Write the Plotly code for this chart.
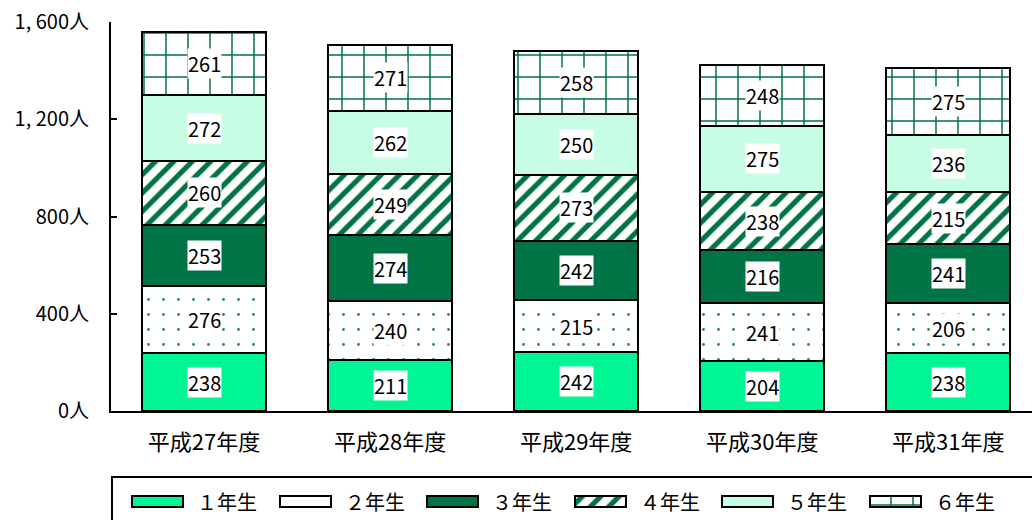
import plotly.graph_objects as go

years = ["平成27年度", "平成28年度", "平成29年度", "平成30年度", "平成31年度"]
grade_names = ["１年生", "２年生", "３年生", "４年生", "５年生", "６年生"]
grade1 = [238, 211, 242, 204, 238]
grade2 = [276, 240, 215, 241, 206]
grade3 = [253, 274, 242, 216, 241]
grade4 = [260, 249, 273, 238, 215]
grade5 = [272, 262, 250, 275, 236]
grade6 = [261, 271, 258, 248, 275]
y_ticks = [0, 400, 800, 1200, 1600]
y_tick_text = ["0人", "400人", "800人", "1, 200人", "1, 600人"]

series = [grade1, grade2, grade3, grade4, grade5, grade6]

W, H = 1032, 520
FONT = "Noto Sans CJK JP"
DARK = "#007444"


def style(i):
    """Marker style (fill colour + pattern) for grade i."""
    line = dict(color="black", width=2)
    if i == 0:
        return dict(color="#00F594", line=line)
    if i == 1:
        return dict(color="white", line=line,
                    pattern=dict(shape=".", fgcolor="#2E8B63", bgcolor="white",
                                 fgopacity=1, size=15, solidity=0.03))
    if i == 2:
        return dict(color=DARK, line=line)
    if i == 3:
        return dict(color="white", line=line,
                    pattern=dict(shape="/", fgcolor=DARK, bgcolor="white",
                                 fgopacity=1, size=13, solidity=0.4))
    if i == 4:
        return dict(color="#C8FDE5", line=line)
    return dict(color="white", line=line,
                pattern=dict(shape="+", fgcolor=DARK, bgcolor="white",
                             fgopacity=1, size=22, solidity=0.13))


fig = go.Figure()
for i, (name, vals) in enumerate(zip(grade_names, series)):
    fig.add_trace(go.Bar(
        x=years, y=vals, name=name, width=0.667,
        marker=style(i), hoverinfo="skip", showlegend=False,
        xaxis="x", yaxis="y",
    ))

# value labels on white boxes at each segment's midpoint
annotations = []
for i, yr in enumerate(years):
    base = 0
    for vals in series:
        v = vals[i]
        annotations.append(dict(
            x=yr, y=base + v / 2, xref="x", yref="y", text=str(v),
            showarrow=False, bgcolor="white", borderpad=0,
            font=dict(family=FONT, size=20, color="black"),
        ))
        base += v

# legend strip along the bottom, laid out in pixel units on its own axes
LEG_X0, LEG_STEP, SW_W, SW_H, LEG_Y = 132, 147.6, 51, 11, 501
for i, name in enumerate(grade_names):
    x0 = LEG_X0 + i * LEG_STEP
    fig.add_trace(go.Bar(
        y=[LEG_Y], x=[SW_W], base=[x0], orientation="h", width=SW_H,
        marker=style(i), hoverinfo="skip", showlegend=False,
        xaxis="x2", yaxis="y2",
    ))
    annotations.append(dict(
        x=x0 + SW_W + 12, y=LEG_Y, xref="x2", yref="y2", text=name,
        xanchor="left", yanchor="middle", showarrow=False,
        font=dict(family=FONT, size=20, color="black"),
    ))

fig.update_layout(
    width=W, height=H,
    margin=dict(l=0, r=0, t=0, b=0, autoexpand=False),
    barmode="stack", bargap=0,
    plot_bgcolor="white", paper_bgcolor="white",
    font=dict(family=FONT, size=20, color="black"),
    annotations=annotations,
    showlegend=False,
    shapes=[dict(type="rect", xref="x2", yref="y2",
                 x0=112, x1=1045, y0=477, y1=535,
                 line=dict(color="black", width=2), layer="below")],
    xaxis=dict(
        domain=[111 / W, 1], range=[-0.5, 4.45], automargin=False,
        showline=True, linecolor="black", linewidth=2,
        ticks="", tickfont=dict(family=FONT, size=22), ticklabelstandoff=11,
        fixedrange=True,
    ),
    yaxis=dict(
        domain=[(H - 411) / H, (H - 22) / H], automargin=False,
        range=[0, 1600], tickvals=y_ticks, ticktext=y_tick_text,
        showline=True, linecolor="black", linewidth=2, showgrid=False,
        ticks="inside", ticklen=6, tickwidth=2, tickcolor="black",
        tickfont=dict(family=FONT, size=20), ticklabelstandoff=16,
        zeroline=False,
    ),
    xaxis2=dict(
        domain=[0, 1], range=[0, W], anchor="y2", visible=False,
        automargin=False, fixedrange=True,
    ),
    yaxis2=dict(
        domain=[0, 48 / H], range=[H, H - 48], anchor="x2", visible=False,
        automargin=False, fixedrange=True,
    ),
)

fig.write_html("out.html")
